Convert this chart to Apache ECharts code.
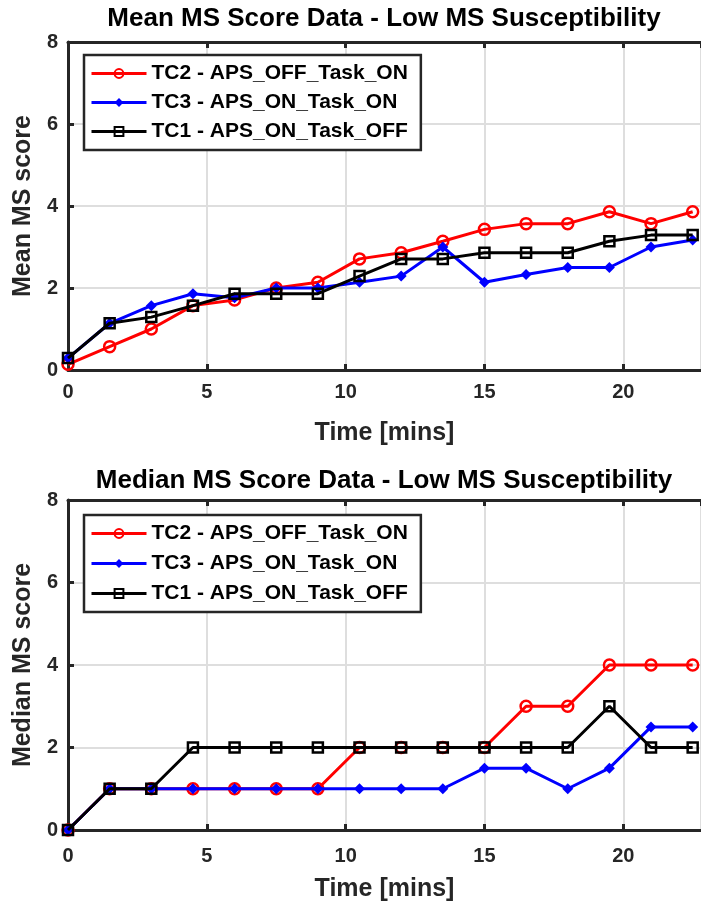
<!DOCTYPE html>
<html>
<head>
<meta charset="utf-8">
<script src="https://cdn.jsdelivr.net/npm/echarts@6/dist/echarts.min.js"></script>
<style>
  html, body { margin: 0; padding: 0; background: #fff; }
  #chart { width: 701px; height: 903px; }
</style>
</head>
<body>
<div id="chart"></div>
<script>
// Sampling times (minutes)
const timeMins = [0, 1.5, 3, 4.5, 6, 7.5, 9, 10.5, 12, 13.5, 15, 16.5, 18, 19.5, 21, 22.5];

const seriesNames = ['TC2 - APS_OFF_Task_ON', 'TC3 - APS_ON_Task_ON', 'TC1 - APS_ON_Task_OFF'];

// Mean MS score per condition
const meanTC2 = [0.14, 0.57, 1.0, 1.57, 1.71, 2.0, 2.14, 2.71, 2.86, 3.14, 3.43, 3.57, 3.57, 3.86, 3.57, 3.86];
const meanTC3 = [0.29, 1.14, 1.57, 1.86, 1.76, 2.0, 2.0, 2.14, 2.29, 3.0, 2.14, 2.33, 2.5, 2.5, 3.0, 3.17];
const meanTC1 = [0.29, 1.14, 1.29, 1.57, 1.86, 1.86, 1.86, 2.29, 2.71, 2.71, 2.86, 2.86, 2.86, 3.14, 3.29, 3.29];

// Median MS score per condition
const medianTC2 = [0, 1, 1, 1, 1, 1, 1, 2, 2, 2, 2, 3, 3, 4, 4, 4];
const medianTC3 = [0, 1, 1, 1, 1, 1, 1, 1, 1, 1, 1.5, 1.5, 1, 1.5, 2.5, 2.5];
const medianTC1 = [0, 1, 1, 2, 2, 2, 2, 2, 2, 2, 2, 2, 2, 3, 2, 2];

const yTicks = [0, 2, 4, 6, 8];
const xTicks = [0, 5, 10, 15, 20];

const FONT = '"Liberation Sans", Arial, Helvetica, sans-serif';
const AXIS_COLOR = '#262626';
const GRID_COLOR = '#dedede';

const pairs = (ys) => timeMins.map((t, i) => [t, ys[i]]);

const styles = [
  { color: '#ff0000', symbol: 'circle', size: 11, fill: 'rgba(0,0,0,0)', border: 2.5 },
  { color: '#0000ff', symbol: 'diamond', size: 11, fill: '#0000ff', border: 0 },
  { color: '#000000', symbol: 'rect', size: 10, fill: 'rgba(0,0,0,0)', border: 2.5 }
];

function makeSeries(values, idx, gridIdx) {
  const s = styles[idx];
  return {
    name: seriesNames[idx],
    type: 'line',
    xAxisIndex: gridIdx * 2,
    yAxisIndex: gridIdx,
    data: pairs(values),
    symbol: s.symbol,
    symbolSize: s.size,
    showAllSymbol: true,
    lineStyle: { color: s.color, width: 3 },
    itemStyle: { color: s.fill, borderColor: s.color, borderWidth: s.border },
    emphasis: { disabled: true },
    animation: false,
    z: 3 + idx
  };
}

function bottomX(gridIdx, nameGap, labelMargin) {
  return {
    type: 'value', gridIndex: gridIdx, position: 'bottom',
    min: 0, max: 22.8, interval: 5,
    name: 'Time [mins]', nameLocation: 'middle', nameGap: nameGap,
    nameTextStyle: { fontFamily: FONT, fontWeight: 'bold', fontSize: 25, color: AXIS_COLOR },
    axisLine: { show: true, onZero: false, lineStyle: { color: AXIS_COLOR, width: 3 } },
    axisTick: { show: true, inside: true, length: 6, lineStyle: { color: AXIS_COLOR, width: 3 } },
    axisLabel: {
      show: true, margin: labelMargin, showMaxLabel: false,
      fontFamily: FONT, fontWeight: 'bold', fontSize: 20, color: AXIS_COLOR,
      formatter: (v) => (xTicks.indexOf(v) >= 0 ? String(v) : '')
    },
    splitLine: { show: true, lineStyle: { color: GRID_COLOR, width: 2 } }
  };
}

function topX(gridIdx) {
  return {
    type: 'value', gridIndex: gridIdx, position: 'top',
    min: 0, max: 22.8, interval: 5,
    axisLine: { show: true, onZero: false, lineStyle: { color: AXIS_COLOR, width: 3 } },
    axisTick: { show: true, inside: true, length: 6, lineStyle: { color: AXIS_COLOR, width: 3 } },
    axisLabel: { show: false },
    splitLine: { show: false }
  };
}

function leftY(gridIdx, name) {
  return {
    type: 'value', gridIndex: gridIdx,
    min: 0, max: 8, interval: 2,
    name: name, nameLocation: 'middle', nameGap: 24, nameRotate: 90,
    nameTextStyle: { fontFamily: FONT, fontWeight: 'bold', fontSize: 25, color: AXIS_COLOR },
    axisLine: { show: true, onZero: false, lineStyle: { color: AXIS_COLOR, width: 3 } },
    axisTick: { show: true, inside: true, length: 6, lineStyle: { color: AXIS_COLOR, width: 3 } },
    axisLabel: {
      margin: 10, fontFamily: FONT, fontWeight: 'bold', fontSize: 20, color: AXIS_COLOR,
      formatter: (v) => (yTicks.indexOf(v) >= 0 ? String(v) : '')
    },
    splitLine: { show: true, lineStyle: { color: GRID_COLOR, width: 2 } }
  };
}

function legendAt(top, gap) {
  return {
    orient: 'vertical', left: 84, top: top,
    data: seriesNames,
    itemWidth: 55, itemHeight: 11, itemGap: gap,
    padding: [8, 13, 8, 6],
    borderColor: AXIS_COLOR, borderWidth: 2.5, backgroundColor: '#ffffff',
    selectedMode: false,
    lineStyle: { width: 3 },
    textStyle: { fontFamily: FONT, fontWeight: 'bold', fontSize: 21, color: '#000', lineHeight: 20 }
  };
}

const titleStyle = { fontFamily: FONT, fontWeight: 'bold', fontSize: 26, color: '#000' };

const option = {
  backgroundColor: '#ffffff',
  animation: false,
  title: [
    { text: 'Mean MS Score Data - Low MS Susceptibility', left: 384, textAlign: 'center', top: 6, textStyle: titleStyle, padding: 0 },
    { text: 'Median MS Score Data - Low MS Susceptibility', left: 384, textAlign: 'center', top: 468, textStyle: titleStyle, padding: 0 }
  ],
  legend: [legendAt(55, 8), legendAt(515, 9)],
  grid: [
    { left: 68, top: 42, width: 635, height: 328 },
    { left: 68, top: 500, width: 635, height: 330 }
  ],
  xAxis: [bottomX(0, 51, 12), topX(0), bottomX(1, 47, 16), topX(1)],
  yAxis: [leftY(0, 'Mean MS score'), leftY(1, 'Median MS score')],
  series: [
    makeSeries(meanTC2, 0, 0),
    makeSeries(meanTC3, 1, 0),
    makeSeries(meanTC1, 2, 0),
    makeSeries(medianTC2, 0, 1),
    makeSeries(medianTC3, 1, 1),
    makeSeries(medianTC1, 2, 1)
  ]
};

const chart = echarts.init(document.getElementById('chart'), null, { renderer: 'canvas' });
chart.setOption(option);
</script>
</body>
</html>
